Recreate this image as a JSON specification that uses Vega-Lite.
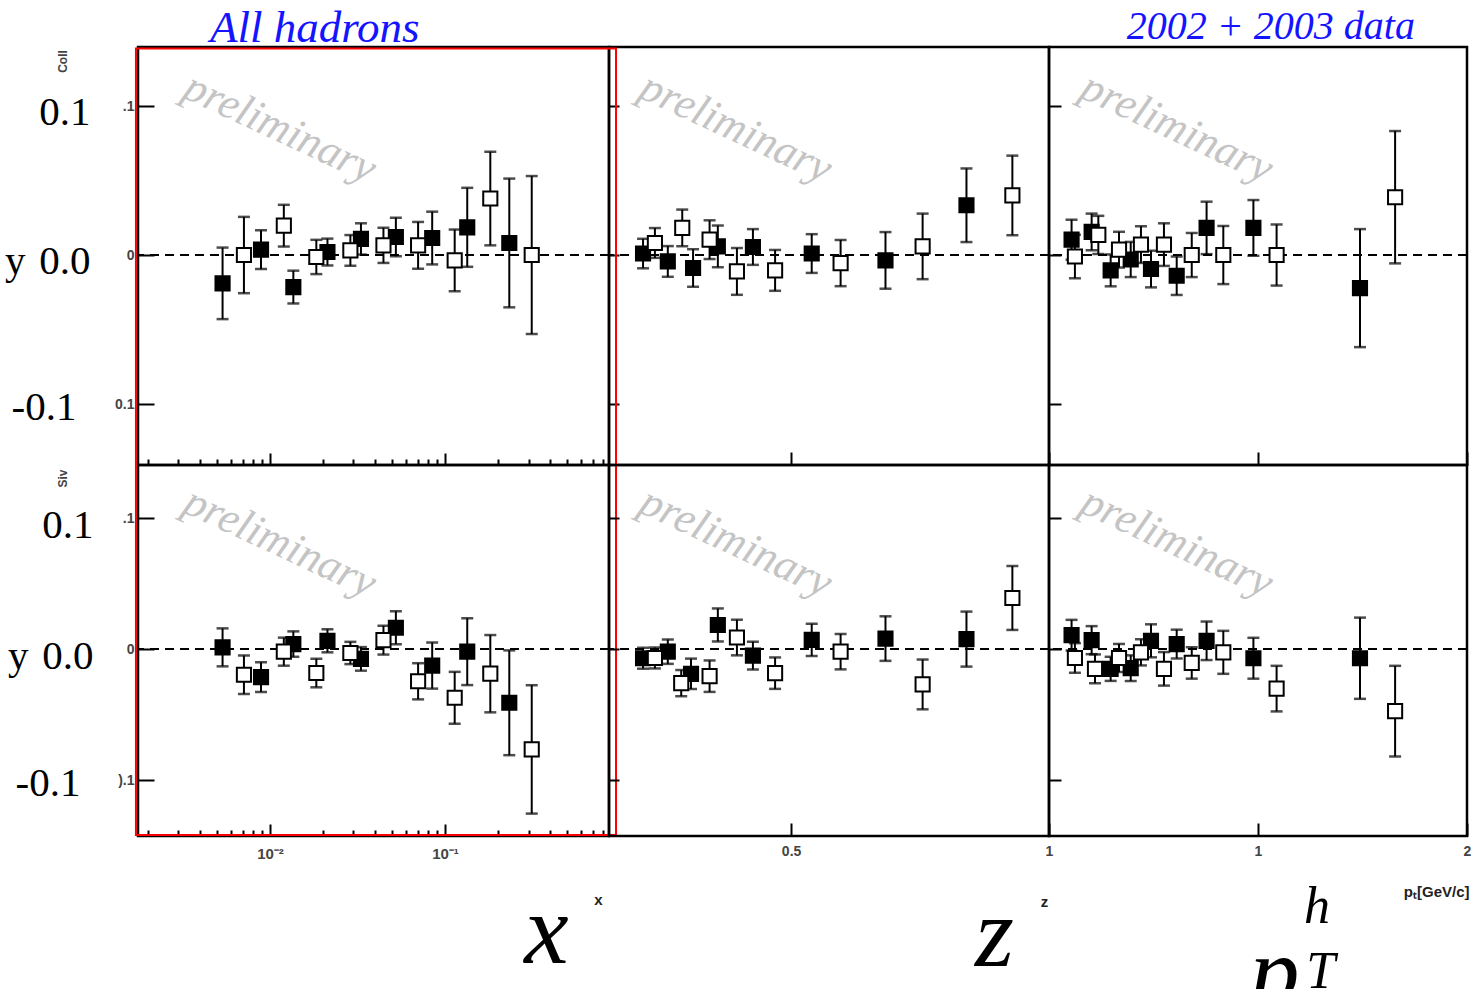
{
 "$schema": "https://vega.github.io/schema/vega-lite/v6.json",
 "autosize": {"type": "none"},
 "padding": {"left": 138, "top": 47, "right": 1337, "bottom": 942},
 "background": "white",
 "config": {"view": {"stroke": "black", "strokeWidth": 2.5}, "axis": {"grid": false}},
 "columns": 3,
 "spacing": 0,
 "align": "each",
 "bounds": "flush",
 "datasets": {
  "pts": [
   {"r":"C","c":"x","s":"h+","v":0.00536,"a":-0.019,"e":0.024},
   {"r":"C","c":"x","s":"h+","v":0.00889,"a":0.0036,"e":0.013},
   {"r":"C","c":"x","s":"h+","v":0.0136,"a":-0.0215,"e":0.011},
   {"r":"C","c":"x","s":"h+","v":0.0213,"a":0.002,"e":0.009},
   {"r":"C","c":"x","s":"h+","v":0.0331,"a":0.0108,"e":0.0105},
   {"r":"C","c":"x","s":"h+","v":0.0524,"a":0.0121,"e":0.013},
   {"r":"C","c":"x","s":"h+","v":0.0845,"a":0.0114,"e":0.0177},
   {"r":"C","c":"x","s":"h+","v":0.134,"a":0.0186,"e":0.0265},
   {"r":"C","c":"x","s":"h+","v":0.233,"a":0.0081,"e":0.0432},
   {"r":"C","c":"x","s":"h-","v":0.0071,"a":0.0,"e":0.0256},
   {"r":"C","c":"x","s":"h-","v":0.012,"a":0.0197,"e":0.014},
   {"r":"C","c":"x","s":"h-","v":0.0184,"a":-0.0013,"e":0.0115},
   {"r":"C","c":"x","s":"h-","v":0.0288,"a":0.0031,"e":0.0103},
   {"r":"C","c":"x","s":"h-","v":0.0445,"a":0.0065,"e":0.0118},
   {"r":"C","c":"x","s":"h-","v":0.0702,"a":0.0065,"e":0.0157},
   {"r":"C","c":"x","s":"h-","v":0.1136,"a":-0.0036,"e":0.0207},
   {"r":"C","c":"x","s":"h-","v":0.1815,"a":0.0379,"e":0.0314},
   {"r":"C","c":"x","s":"h-","v":0.313,"a":0.0,"e":0.053},
   {"r":"C","c":"z","s":"h+","v":0.213,"a":0.001,"e":0.0099},
   {"r":"C","c":"z","s":"h+","v":0.261,"a":-0.0043,"e":0.0103},
   {"r":"C","c":"z","s":"h+","v":0.31,"a":-0.0087,"e":0.0126},
   {"r":"C","c":"z","s":"h+","v":0.358,"a":0.0058,"e":0.014},
   {"r":"C","c":"z","s":"h+","v":0.426,"a":0.0054,"e":0.012},
   {"r":"C","c":"z","s":"h+","v":0.54,"a":0.001,"e":0.013},
   {"r":"C","c":"z","s":"h+","v":0.683,"a":-0.0036,"e":0.019},
   {"r":"C","c":"z","s":"h+","v":0.84,"a":0.0334,"e":0.0247},
   {"r":"C","c":"z","s":"h-","v":0.236,"a":0.0081,"e":0.01},
   {"r":"C","c":"z","s":"h-","v":0.289,"a":0.0182,"e":0.0123},
   {"r":"C","c":"z","s":"h-","v":0.342,"a":0.0103,"e":0.013},
   {"r":"C","c":"z","s":"h-","v":0.395,"a":-0.011,"e":0.0157},
   {"r":"C","c":"z","s":"h-","v":0.469,"a":-0.0103,"e":0.0137},
   {"r":"C","c":"z","s":"h-","v":0.596,"a":-0.0054,"e":0.0155},
   {"r":"C","c":"z","s":"h-","v":0.755,"a":0.0058,"e":0.022},
   {"r":"C","c":"z","s":"h-","v":0.929,"a":0.04,"e":0.0267},
   {"r":"C","c":"p","s":"h+","v":0.108,"a":0.0103,"e":0.0134},
   {"r":"C","c":"p","s":"h+","v":0.204,"a":0.0155,"e":0.0123},
   {"r":"C","c":"p","s":"h+","v":0.295,"a":-0.0103,"e":0.0107},
   {"r":"C","c":"p","s":"h+","v":0.391,"a":-0.003,"e":0.0118},
   {"r":"C","c":"p","s":"h+","v":0.488,"a":-0.0094,"e":0.0123},
   {"r":"C","c":"p","s":"h+","v":0.611,"a":-0.0139,"e":0.0129},
   {"r":"C","c":"p","s":"h+","v":0.754,"a":0.0182,"e":0.0176},
   {"r":"C","c":"p","s":"h+","v":0.978,"a":0.0182,"e":0.0187},
   {"r":"C","c":"p","s":"h+","v":1.488,"a":-0.0222,"e":0.0396},
   {"r":"C","c":"p","s":"h-","v":0.124,"a":-0.001,"e":0.0146},
   {"r":"C","c":"p","s":"h-","v":0.236,"a":0.0135,"e":0.0128},
   {"r":"C","c":"p","s":"h-","v":0.335,"a":0.0036,"e":0.012},
   {"r":"C","c":"p","s":"h-","v":0.44,"a":0.007,"e":0.0123},
   {"r":"C","c":"p","s":"h-","v":0.55,"a":0.007,"e":0.0143},
   {"r":"C","c":"p","s":"h-","v":0.683,"a":0.0,"e":0.0148},
   {"r":"C","c":"p","s":"h-","v":0.834,"a":0.0,"e":0.0195},
   {"r":"C","c":"p","s":"h-","v":1.089,"a":0.0,"e":0.0205},
   {"r":"C","c":"p","s":"h-","v":1.656,"a":0.0388,"e":0.0444},
   {"r":"S","c":"x","s":"h+","v":0.00536,"a":0.0013,"e":0.0145},
   {"r":"S","c":"x","s":"h+","v":0.00889,"a":-0.0214,"e":0.0113},
   {"r":"S","c":"x","s":"h+","v":0.0136,"a":0.0038,"e":0.0097},
   {"r":"S","c":"x","s":"h+","v":0.0213,"a":0.0063,"e":0.0088},
   {"r":"S","c":"x","s":"h+","v":0.0331,"a":-0.0075,"e":0.009},
   {"r":"S","c":"x","s":"h+","v":0.0524,"a":0.0163,"e":0.0126},
   {"r":"S","c":"x","s":"h+","v":0.0845,"a":-0.0126,"e":0.0176},
   {"r":"S","c":"x","s":"h+","v":0.134,"a":-0.002,"e":0.0255},
   {"r":"S","c":"x","s":"h+","v":0.233,"a":-0.041,"e":0.04},
   {"r":"S","c":"x","s":"h-","v":0.0071,"a":-0.0196,"e":0.0147},
   {"r":"S","c":"x","s":"h-","v":0.012,"a":-0.002,"e":0.0107},
   {"r":"S","c":"x","s":"h-","v":0.0184,"a":-0.0183,"e":0.0109},
   {"r":"S","c":"x","s":"h-","v":0.0288,"a":-0.003,"e":0.0085},
   {"r":"S","c":"x","s":"h-","v":0.0445,"a":0.0068,"e":0.011},
   {"r":"S","c":"x","s":"h-","v":0.0702,"a":-0.0246,"e":0.0138},
   {"r":"S","c":"x","s":"h-","v":0.1136,"a":-0.0372,"e":0.0198},
   {"r":"S","c":"x","s":"h-","v":0.1815,"a":-0.0188,"e":0.0295},
   {"r":"S","c":"x","s":"h-","v":0.313,"a":-0.0766,"e":0.049},
   {"r":"S","c":"z","s":"h+","v":0.213,"a":-0.007,"e":0.008},
   {"r":"S","c":"z","s":"h+","v":0.261,"a":-0.002,"e":0.0093},
   {"r":"S","c":"z","s":"h+","v":0.306,"a":-0.0189,"e":0.0116},
   {"r":"S","c":"z","s":"h+","v":0.358,"a":0.0184,"e":0.0126},
   {"r":"S","c":"z","s":"h+","v":0.426,"a":-0.005,"e":0.0106},
   {"r":"S","c":"z","s":"h+","v":0.54,"a":0.007,"e":0.0123},
   {"r":"S","c":"z","s":"h+","v":0.683,"a":0.008,"e":0.017},
   {"r":"S","c":"z","s":"h+","v":0.84,"a":0.0076,"e":0.021},
   {"r":"S","c":"z","s":"h-","v":0.236,"a":-0.0068,"e":0.008},
   {"r":"S","c":"z","s":"h-","v":0.287,"a":-0.026,"e":0.01},
   {"r":"S","c":"z","s":"h-","v":0.342,"a":-0.0207,"e":0.012},
   {"r":"S","c":"z","s":"h-","v":0.395,"a":0.0088,"e":0.0136},
   {"r":"S","c":"z","s":"h-","v":0.469,"a":-0.0184,"e":0.012},
   {"r":"S","c":"z","s":"h-","v":0.596,"a":-0.002,"e":0.0135},
   {"r":"S","c":"z","s":"h-","v":0.755,"a":-0.027,"e":0.019},
   {"r":"S","c":"z","s":"h-","v":0.929,"a":0.039,"e":0.0244},
   {"r":"S","c":"p","s":"h+","v":0.108,"a":0.0106,"e":0.0117},
   {"r":"S","c":"p","s":"h+","v":0.204,"a":0.0068,"e":0.0107},
   {"r":"S","c":"p","s":"h+","v":0.295,"a":-0.0151,"e":0.0092},
   {"r":"S","c":"p","s":"h+","v":0.391,"a":-0.0146,"e":0.0098},
   {"r":"S","c":"p","s":"h+","v":0.488,"a":0.0063,"e":0.0126},
   {"r":"S","c":"p","s":"h+","v":0.611,"a":0.0038,"e":0.011},
   {"r":"S","c":"p","s":"h+","v":0.754,"a":0.0063,"e":0.0147},
   {"r":"S","c":"p","s":"h+","v":0.978,"a":-0.007,"e":0.0156},
   {"r":"S","c":"p","s":"h+","v":1.488,"a":-0.007,"e":0.031},
   {"r":"S","c":"p","s":"h-","v":0.124,"a":-0.0068,"e":0.0113},
   {"r":"S","c":"p","s":"h-","v":0.22,"a":-0.0151,"e":0.011},
   {"r":"S","c":"p","s":"h-","v":0.335,"a":-0.0068,"e":0.0107},
   {"r":"S","c":"p","s":"h-","v":0.44,"a":-0.0025,"e":0.01},
   {"r":"S","c":"p","s":"h-","v":0.55,"a":-0.0151,"e":0.0128},
   {"r":"S","c":"p","s":"h-","v":0.683,"a":-0.0106,"e":0.012},
   {"r":"S","c":"p","s":"h-","v":0.834,"a":-0.0025,"e":0.0164},
   {"r":"S","c":"p","s":"h-","v":1.089,"a":-0.0302,"e":0.0174},
   {"r":"S","c":"p","s":"h-","v":1.656,"a":-0.0474,"e":0.0346}
  ]
 },
 "concat": [
  {
   "width": 471, "height": 418,
   "layer": [
    {"data": {"values": [{}]}, "mark": {"type": "text", "text": "preliminary", "angle": 25, "font": "Liberation Serif", "fontStyle": "italic", "fontSize": 44, "color": "#c4c4c4", "align": "center", "baseline": "middle"},
     "encoding": {"x": {"datum": 0.0114, "type": "quantitative", "scale": {"type": "log", "domain": [0.001762, 0.865], "nice": false}, "axis": null}, "y": {"datum": 0.085, "type": "quantitative", "scale": {"domain": [-0.1409, 0.1396], "nice": false, "zero": false}, "axis": null}}},
    {"data": {"values": [{"t": "All hadrons", "px": 0.00454, "py": 0.1431}]}, "mark": {"type": "text", "font": "Liberation Serif", "fontStyle": "italic", "fontSize": 45, "color": "#1414ff", "align": "left", "baseline": "alphabetic"},
     "encoding": {"x": {"field": "px", "type": "quantitative", "scale": {"type": "log", "domain": [0.001762, 0.865], "nice": false}, "axis": null}, "y": {"field": "py", "type": "quantitative", "scale": {"domain": [-0.1409, 0.1396], "nice": false, "zero": false}, "axis": null}, "text": {"field": "t"}}},
    {"data": {"values": [{"a": 0}]}, "mark": {"type": "rule", "strokeDash": [9, 6], "strokeWidth": 2, "color": "black"},
     "encoding": {"y": {"field": "a", "type": "quantitative", "scale": {"domain": [-0.1409, 0.1396], "nice": false, "zero": false},
      "axis": {"orient": "left", "values": [-0.1], "ticks": false, "domain": false, "grid": false, "labelExpr": "'-0.1'", "labelPadding": 62, "labelOffset": 3, "labelFont": "Liberation Serif", "labelFontSize": 41, "labelColor": "black", "title": null}}}},
    {"data": {"name": "pts"}, "transform": [{"filter": "datum.r === 'C' && datum.c === 'x'"}],
     "mark": {"type": "errorbar", "thickness": 2, "color": "black", "ticks": {"size": 12, "thickness": 2.5, "color": "black"}},
     "encoding": {
      "x": {"field": "v", "type": "quantitative", "scale": {"type": "log", "domain": [0.001762, 0.865], "nice": false},
            "axis": {"orient": "bottom", "values": [0.01, 0.1], "tickSize": -12, "tickWidth": 2, "tickColor": "black", "labels": false, "domain": false, "grid": false, "title": null}},
      "y": {"field": "a", "type": "quantitative", "scale": {"domain": [-0.1409, 0.1396], "nice": false, "zero": false},
            "axis": {"orient": "left", "values": [-0.1, 0, 0.1], "tickSize": -16, "tickWidth": 2, "tickColor": "black", "domain": false, "grid": false, "labelExpr": "datum.value > 0.05 ? '.1' : (datum.value < -0.05 ? '0.1' : '0')", "labelPadding": 20, "labelFont": "Liberation Sans", "labelFontWeight": "bold", "labelFontSize": 14, "labelColor": "#444444", "title": "Coll", "titleX": -76, "titleY": 14, "titleAngle": 270, "titleAlign": "center", "titleBaseline": "middle", "titleFont": "Liberation Sans", "titleFontSize": 12, "titleFontWeight": "bold", "titleColor": "#444444"}},
      "yError": {"field": "e"}}},
    {"data": {"name": "pts"}, "transform": [{"filter": "datum.r === 'C' && datum.c === 'x'"}],
     "mark": {"type": "square", "size": 200, "stroke": "black", "strokeWidth": 2, "opacity": 1},
     "encoding": {
      "x": {"field": "v", "type": "quantitative", "scale": {"type": "log", "domain": [0.001762, 0.865], "nice": false},
            "axis": {"orient": "bottom", "values": [0.002,0.003,0.004,0.005,0.006,0.007,0.008,0.009,0.02,0.03,0.04,0.05,0.06,0.07,0.08,0.09,0.2,0.3,0.4,0.5,0.6,0.7,0.8], "tickSize": -6, "tickWidth": 2, "tickColor": "black", "labels": false, "domain": false, "grid": false, "title": null}},
      "y": {"field": "a", "type": "quantitative", "scale": {"domain": [-0.1409, 0.1396], "nice": false, "zero": false},
            "axis": {"orient": "left", "values": [0, 0.1], "ticks": false, "domain": false, "grid": false, "labelExpr": "datum.value > 0.05 ? '0.1' : 'y\u200a 0.0'", "labelPadding": 48, "labelOffset": 6, "labelFont": "Liberation Serif", "labelFontSize": 41, "labelColor": "black", "title": null}},
      "fill": {"field": "s", "type": "nominal", "scale": {"domain": ["h+", "h-"], "range": ["#000000", "#ffffff"]}, "legend": null}}}
   ],
   "resolve": {"axis": {"x": "independent", "y": "independent"}}
  },
  {
   "width": 440, "height": 418,
   "layer": [
    {"data": {"values": [{}]}, "mark": {"type": "text", "text": "preliminary", "angle": 25, "font": "Liberation Serif", "fontStyle": "italic", "fontSize": 44, "color": "#c4c4c4", "align": "center", "baseline": "middle"},
     "encoding": {"x": {"datum": 0.393, "type": "quantitative", "scale": {"domain": [0.147, 1], "nice": false, "zero": false}, "axis": null}, "y": {"datum": 0.085, "type": "quantitative", "scale": {"domain": [-0.1409, 0.1396], "nice": false, "zero": false}, "axis": null}}},
    {"data": {"values": [{}]}, "mark": {"type": "rule", "strokeDash": [9, 6], "strokeWidth": 2, "color": "black"},
     "encoding": {"y": {"datum": 0, "type": "quantitative", "axis": null}}},
    {"data": {"name": "pts"}, "transform": [{"filter": "datum.r === 'C' && datum.c === 'z'"}],
     "mark": {"type": "errorbar", "thickness": 2, "color": "black", "ticks": {"size": 12, "thickness": 2.5, "color": "black"}},
     "encoding": {
      "x": {"field": "v", "type": "quantitative", "scale": {"domain": [0.147, 1], "nice": false, "zero": false},
            "axis": {"orient": "bottom", "values": [0.5, 1], "tickSize": -13, "tickWidth": 2, "tickColor": "black", "labels": false, "domain": false, "grid": false, "title": null}},
      "y": {"field": "a", "type": "quantitative", "scale": {"domain": [-0.1409, 0.1396], "nice": false, "zero": false},
            "axis": {"orient": "left", "values": [-0.1, 0, 0.1], "tickSize": -10, "tickWidth": 2, "tickColor": "black", "labels": false, "domain": false, "grid": false, "title": null}},
      "yError": {"field": "e"}}},
    {"data": {"name": "pts"}, "transform": [{"filter": "datum.r === 'C' && datum.c === 'z'"}],
     "mark": {"type": "square", "size": 200, "stroke": "black", "strokeWidth": 2, "opacity": 1},
     "encoding": {
      "x": {"field": "v", "type": "quantitative", "scale": {"domain": [0.147, 1], "nice": false, "zero": false}, "axis": null},
      "y": {"field": "a", "type": "quantitative", "scale": {"domain": [-0.1409, 0.1396], "nice": false, "zero": false}, "axis": null},
      "fill": {"field": "s", "type": "nominal", "scale": {"domain": ["h+", "h-"], "range": ["#000000", "#ffffff"]}, "legend": null}}}
   ],
   "resolve": {"axis": {"x": "independent", "y": "independent"}}
  },
  {
   "width": 418, "height": 418,
   "layer": [
    {"data": {"values": [{}]}, "mark": {"type": "text", "text": "preliminary", "angle": 25, "font": "Liberation Serif", "fontStyle": "italic", "fontSize": 44, "color": "#c4c4c4", "align": "center", "baseline": "middle"},
     "encoding": {"x": {"datum": 0.612, "type": "quantitative", "scale": {"domain": [0, 2], "nice": false}, "axis": null}, "y": {"datum": 0.085, "type": "quantitative", "scale": {"domain": [-0.1409, 0.1396], "nice": false, "zero": false}, "axis": null}}},
    {"data": {"values": [{"t": "2002 + 2003 data", "px": 1.751, "py": 0.1452}]}, "mark": {"type": "text", "font": "Liberation Serif", "fontStyle": "italic", "fontSize": 40, "color": "#1414ff", "align": "right", "baseline": "alphabetic"},
     "encoding": {"x": {"field": "px", "type": "quantitative", "scale": {"domain": [0, 2], "nice": false}, "axis": null}, "y": {"field": "py", "type": "quantitative", "scale": {"domain": [-0.1409, 0.1396], "nice": false, "zero": false}, "axis": null}, "text": {"field": "t"}}},
    {"data": {"values": [{}]}, "mark": {"type": "rule", "strokeDash": [9, 6], "strokeWidth": 2, "color": "black"},
     "encoding": {"y": {"datum": 0, "type": "quantitative", "axis": null}}},
    {"data": {"name": "pts"}, "transform": [{"filter": "datum.r === 'C' && datum.c === 'p'"}],
     "mark": {"type": "errorbar", "thickness": 2, "color": "black", "ticks": {"size": 12, "thickness": 2.5, "color": "black"}},
     "encoding": {
      "x": {"field": "v", "type": "quantitative", "scale": {"domain": [0, 2], "nice": false},
            "axis": {"orient": "bottom", "values": [1, 2], "tickSize": -13, "tickWidth": 2, "tickColor": "black", "labels": false, "domain": false, "grid": false, "title": null}},
      "y": {"field": "a", "type": "quantitative", "scale": {"domain": [-0.1409, 0.1396], "nice": false, "zero": false},
            "axis": {"orient": "left", "values": [-0.1, 0, 0.1], "tickSize": -12, "tickWidth": 2, "tickColor": "black", "labels": false, "domain": false, "grid": false, "title": null}},
      "yError": {"field": "e"}}},
    {"data": {"name": "pts"}, "transform": [{"filter": "datum.r === 'C' && datum.c === 'p'"}],
     "mark": {"type": "square", "size": 200, "stroke": "black", "strokeWidth": 2, "opacity": 1},
     "encoding": {
      "x": {"field": "v", "type": "quantitative", "scale": {"domain": [0, 2], "nice": false}, "axis": null},
      "y": {"field": "a", "type": "quantitative", "scale": {"domain": [-0.1409, 0.1396], "nice": false, "zero": false}, "axis": null},
      "fill": {"field": "s", "type": "nominal", "scale": {"domain": ["h+", "h-"], "range": ["#000000", "#ffffff"]}, "legend": null}}}
   ],
   "resolve": {"axis": {"x": "independent", "y": "independent"}}
  },
  {
   "width": 471, "height": 371,
   "layer": [
    {"data": {"values": [{}]}, "mark": {"type": "text", "text": "preliminary", "angle": 25, "font": "Liberation Serif", "fontStyle": "italic", "fontSize": 44, "color": "#c4c4c4", "align": "center", "baseline": "middle"},
     "encoding": {"x": {"datum": 0.0114, "type": "quantitative", "scale": {"type": "log", "domain": [0.001762, 0.865], "nice": false}, "axis": null}, "y": {"datum": 0.081, "type": "quantitative", "scale": {"domain": [-0.1427, 0.1405], "nice": false, "zero": false}, "axis": null}}},
    {"data": {"values": [{"a": 0}]}, "mark": {"type": "rule", "strokeDash": [9, 6], "strokeWidth": 2, "color": "black"},
     "encoding": {"y": {"field": "a", "type": "quantitative", "scale": {"domain": [-0.1427, 0.1405], "nice": false, "zero": false},
      "axis": {"orient": "left", "values": [-0.1], "ticks": false, "domain": false, "grid": false, "labelExpr": "'-0.1'", "labelPadding": 58, "labelOffset": 3, "labelFont": "Liberation Serif", "labelFontSize": 41, "labelColor": "black", "title": null}}}},
    {"data": {"name": "pts"}, "transform": [{"filter": "datum.r === 'S' && datum.c === 'x'"}],
     "mark": {"type": "errorbar", "thickness": 2, "color": "black", "ticks": {"size": 12, "thickness": 2.5, "color": "black"}},
     "encoding": {
      "x": {"field": "v", "type": "quantitative", "scale": {"type": "log", "domain": [0.001762, 0.865], "nice": false},
            "axis": {"orient": "bottom", "values": [0.01, 0.1], "tickSize": -12, "tickWidth": 2, "tickColor": "black", "domain": false, "grid": false, "labelExpr": "datum.value < 0.05 ? '10⁻²' : '10⁻¹'", "labelPadding": 22, "labelFlush": false, "labelFont": "Liberation Sans", "labelFontWeight": "bold", "labelFontSize": 15, "labelColor": "#444444", "title": "x", "titleX": 460, "titleY": 63, "titleAlign": "center", "titleBaseline": "middle", "titleFont": "Liberation Sans", "titleFontWeight": "bold", "titleFontSize": 15, "titleColor": "#222222"}},
      "y": {"field": "a", "type": "quantitative", "scale": {"domain": [-0.1427, 0.1405], "nice": false, "zero": false},
            "axis": {"orient": "left", "values": [-0.1, 0, 0.1], "tickSize": -16, "tickWidth": 2, "tickColor": "black", "domain": false, "grid": false, "labelExpr": "datum.value > 0.05 ? '.1' : (datum.value < -0.05 ? ').1' : '0')", "labelPadding": 20, "labelFont": "Liberation Sans", "labelFontWeight": "bold", "labelFontSize": 14, "labelColor": "#444444", "title": "Siv", "titleX": -76, "titleY": 13, "titleAngle": 270, "titleAlign": "center", "titleBaseline": "middle", "titleFont": "Liberation Sans", "titleFontSize": 12, "titleFontWeight": "bold", "titleColor": "#444444"}},
      "yError": {"field": "e"}}},
    {"data": {"name": "pts"}, "transform": [{"filter": "datum.r === 'S' && datum.c === 'x'"}],
     "mark": {"type": "square", "size": 200, "stroke": "black", "strokeWidth": 2, "opacity": 1},
     "encoding": {
      "x": {"field": "v", "type": "quantitative", "scale": {"type": "log", "domain": [0.001762, 0.865], "nice": false},
            "axis": {"orient": "bottom", "values": [0.002,0.003,0.004,0.005,0.006,0.007,0.008,0.009,0.02,0.03,0.04,0.05,0.06,0.07,0.08,0.09,0.2,0.3,0.4,0.5,0.6,0.7,0.8], "tickSize": -6, "tickWidth": 2, "tickColor": "black", "labels": false, "domain": false, "grid": false, "title": "x", "titleX": 408, "titleY": 126, "titleAlign": "center", "titleBaseline": "alphabetic", "titleFont": "Liberation Serif", "titleFontStyle": "italic", "titleFontWeight": "normal", "titleFontSize": 100, "titleColor": "black"}},
      "y": {"field": "a", "type": "quantitative", "scale": {"domain": [-0.1427, 0.1405], "nice": false, "zero": false},
            "axis": {"orient": "left", "values": [0, 0.1], "ticks": false, "domain": false, "grid": false, "labelExpr": "datum.value > 0.05 ? '0.1' : 'y\u200a 0.0'", "labelPadding": 45, "labelOffset": 7, "labelFont": "Liberation Serif", "labelFontSize": 41, "labelColor": "black", "title": null}},
      "fill": {"field": "s", "type": "nominal", "scale": {"domain": ["h+", "h-"], "range": ["#000000", "#ffffff"]}, "legend": null}}},
    {"data": {"values": [{}]}, "mark": {"type": "rect", "fill": "transparent", "stroke": "#ff0000", "strokeWidth": 2},
     "encoding": {
      "x": {"datum": 0.001715, "type": "quantitative", "scale": {"type": "log", "domain": [0.001762, 0.865], "nice": false}, "axis": null},
      "x2": {"datum": 0.9487},
      "y": {"datum": 0.4585, "type": "quantitative", "scale": {"domain": [-0.1427, 0.1405], "nice": false, "zero": false}, "axis": null},
      "y2": {"datum": -0.142}}}
   ],
   "resolve": {"axis": {"x": "independent", "y": "independent"}}
  },
  {
   "width": 440, "height": 371,
   "layer": [
    {"data": {"values": [{}]}, "mark": {"type": "text", "text": "preliminary", "angle": 25, "font": "Liberation Serif", "fontStyle": "italic", "fontSize": 44, "color": "#c4c4c4", "align": "center", "baseline": "middle"},
     "encoding": {"x": {"datum": 0.393, "type": "quantitative", "scale": {"domain": [0.147, 1], "nice": false, "zero": false}, "axis": null}, "y": {"datum": 0.081, "type": "quantitative", "scale": {"domain": [-0.1427, 0.1405], "nice": false, "zero": false}, "axis": null}}},
    {"data": {"values": [{}]}, "mark": {"type": "rule", "strokeDash": [9, 6], "strokeWidth": 2, "color": "black"},
     "encoding": {"y": {"datum": 0, "type": "quantitative", "axis": null}}},
    {"data": {"name": "pts"}, "transform": [{"filter": "datum.r === 'S' && datum.c === 'z'"}],
     "mark": {"type": "errorbar", "thickness": 2, "color": "black", "ticks": {"size": 12, "thickness": 2.5, "color": "black"}},
     "encoding": {
      "x": {"field": "v", "type": "quantitative", "scale": {"domain": [0.147, 1], "nice": false, "zero": false},
            "axis": {"orient": "bottom", "values": [0.5, 1], "format": "~g", "tickSize": -13, "tickWidth": 2, "tickColor": "black", "domain": false, "grid": false, "labelPadding": 21, "labelFlush": false, "labelFont": "Liberation Sans", "labelFontWeight": "bold", "labelFontSize": 14, "labelColor": "#444444", "title": "z", "titleX": 435, "titleY": 65, "titleAlign": "center", "titleBaseline": "middle", "titleFont": "Liberation Sans", "titleFontWeight": "bold", "titleFontSize": 15, "titleColor": "#222222"}},
      "y": {"field": "a", "type": "quantitative", "scale": {"domain": [-0.1427, 0.1405], "nice": false, "zero": false},
            "axis": {"orient": "left", "values": [-0.1, 0, 0.1], "tickSize": -10, "tickWidth": 2, "tickColor": "black", "labels": false, "domain": false, "grid": false, "title": null}},
      "yError": {"field": "e"}}},
    {"data": {"name": "pts"}, "transform": [{"filter": "datum.r === 'S' && datum.c === 'z'"}],
     "mark": {"type": "square", "size": 200, "stroke": "black", "strokeWidth": 2, "opacity": 1},
     "encoding": {
      "x": {"field": "v", "type": "quantitative", "scale": {"domain": [0.147, 1], "nice": false, "zero": false},
            "axis": {"orient": "bottom", "ticks": false, "labels": false, "domain": false, "grid": false, "title": "z", "titleX": 385, "titleY": 129, "titleAlign": "center", "titleBaseline": "alphabetic", "titleFont": "Liberation Serif", "titleFontStyle": "italic", "titleFontWeight": "normal", "titleFontSize": 100, "titleColor": "black"}},
      "y": {"field": "a", "type": "quantitative", "scale": {"domain": [-0.1427, 0.1405], "nice": false, "zero": false}, "axis": null},
      "fill": {"field": "s", "type": "nominal", "scale": {"domain": ["h+", "h-"], "range": ["#000000", "#ffffff"]}, "legend": null}}}
   ],
   "resolve": {"axis": {"x": "independent", "y": "independent"}}
  },
  {
   "width": 418, "height": 371,
   "layer": [
    {"data": {"values": [{}]}, "mark": {"type": "text", "text": "preliminary", "angle": 25, "font": "Liberation Serif", "fontStyle": "italic", "fontSize": 44, "color": "#c4c4c4", "align": "center", "baseline": "middle"},
     "encoding": {"x": {"datum": 0.612, "type": "quantitative", "scale": {"domain": [0, 2], "nice": false}, "axis": null}, "y": {"datum": 0.081, "type": "quantitative", "scale": {"domain": [-0.1427, 0.1405], "nice": false, "zero": false}, "axis": null}}},
    {"data": {"values": [{}]}, "mark": {"type": "rule", "strokeDash": [9, 6], "strokeWidth": 2, "color": "black"},
     "encoding": {"y": {"datum": 0, "type": "quantitative", "axis": null}}},
    {"data": {"name": "pts"}, "transform": [{"filter": "datum.r === 'S' && datum.c === 'p'"}],
     "mark": {"type": "errorbar", "thickness": 2, "color": "black", "ticks": {"size": 12, "thickness": 2.5, "color": "black"}},
     "encoding": {
      "x": {"field": "v", "type": "quantitative", "scale": {"domain": [0, 2], "nice": false},
            "axis": {"orient": "bottom", "values": [1, 2], "format": "~g", "tickSize": -13, "tickWidth": 2, "tickColor": "black", "domain": false, "grid": false, "labelPadding": 21, "labelFlush": false, "labelFont": "Liberation Sans", "labelFontWeight": "bold", "labelFontSize": 14, "labelColor": "#444444", "title": "pₜ[GeV/c]", "titleX": 420, "titleY": 55, "titleAlign": "right", "titleBaseline": "middle", "titleFont": "Liberation Sans", "titleFontWeight": "bold", "titleFontSize": 15, "titleColor": "#222222"}},
      "y": {"field": "a", "type": "quantitative", "scale": {"domain": [-0.1427, 0.1405], "nice": false, "zero": false},
            "axis": {"orient": "left", "values": [-0.1, 0, 0.1], "tickSize": -12, "tickWidth": 2, "tickColor": "black", "labels": false, "domain": false, "grid": false, "title": null}},
      "yError": {"field": "e"}}},
    {"data": {"name": "pts"}, "transform": [{"filter": "datum.r === 'S' && datum.c === 'p'"}],
     "mark": {"type": "square", "size": 200, "stroke": "black", "strokeWidth": 2, "opacity": 1},
     "encoding": {
      "x": {"field": "v", "type": "quantitative", "scale": {"domain": [0, 2], "nice": false},
            "axis": {"orient": "bottom", "ticks": false, "labels": false, "domain": false, "grid": false, "title": "p", "titleX": 225, "titleY": 168, "titleAlign": "center", "titleBaseline": "alphabetic", "titleFont": "Liberation Serif", "titleFontStyle": "italic", "titleFontWeight": "normal", "titleFontSize": 100, "titleColor": "black"}},
      "y": {"field": "a", "type": "quantitative", "scale": {"domain": [-0.1427, 0.1405], "nice": false, "zero": false}, "axis": null},
      "fill": {"field": "s", "type": "nominal", "scale": {"domain": ["h+", "h-"], "range": ["#000000", "#ffffff"]}, "legend": null}}},
    {"data": {"values": [{"t": "h", "px": 1.282, "py": -0.2092}, {"t": "T", "px": 1.3, "py": -0.259}]},
     "mark": {"type": "text", "font": "Liberation Serif", "fontStyle": "italic", "fontSize": 52, "color": "black", "align": "center", "baseline": "alphabetic"},
     "encoding": {
      "x": {"field": "px", "type": "quantitative", "scale": {"domain": [0, 2], "nice": false}, "axis": null},
      "y": {"field": "py", "type": "quantitative", "scale": {"domain": [-0.1427, 0.1405], "nice": false, "zero": false}, "axis": null},
      "text": {"field": "t"}}}
   ],
   "resolve": {"axis": {"x": "independent", "y": "independent"}}
  }
 ]
}
